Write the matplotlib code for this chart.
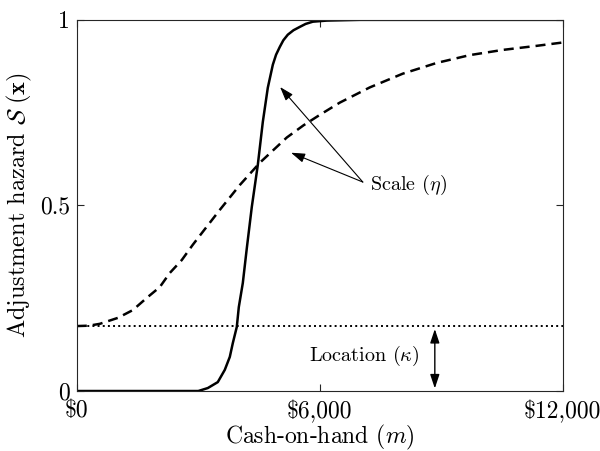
import matplotlib
matplotlib.use("Agg")
import matplotlib.pyplot as plt

# values
sharp_x = [0, 3000, 3235, 3481, 3654, 3778, 3852, 3951, 4000, 4099, 4198, 4321,
           4469, 4593, 4716, 4840, 4920, 5012, 5100, 5210, 5350, 5506, 5650, 5827,
           6173, 7000, 12000]
sharp_y = [0, 0, 0.008, 0.024, 0.057, 0.092, 0.129, 0.173, 0.226, 0.291, 0.385, 0.496,
           0.609, 0.725, 0.817, 0.879, 0.906, 0.927, 0.945, 0.960, 0.972, 0.981, 0.989, 0.995,
           0.998, 1.0, 1.0]

smooth_x = [0, 300, 568, 1012, 1383, 1728, 2049, 2296, 2593, 2864, 3111, 3531,
            4025, 4519, 5185, 5600, 6000, 6494, 7235, 8049, 8889, 9704, 10519, 11358, 12000]
smooth_y = [0.175, 0.176, 0.181, 0.197, 0.218, 0.251, 0.280, 0.318, 0.353, 0.394, 0.429, 0.488,
            0.555, 0.615, 0.683, 0.716, 0.744, 0.777, 0.818, 0.855, 0.884, 0.905, 0.919, 0.930, 0.939]

kappa = 0.175
x_ticks = [0, 6000, 12000]
x_labels = [r'\$0', r'\$6,000', r'\$12,000']
y_ticks = [0, 0.5, 1]
y_labels = ['0', '0.5', '1']

plt.rcParams['font.family'] = 'serif'
plt.rcParams['font.serif'] = ['cmr10']
plt.rcParams['mathtext.fontset'] = 'cm'
plt.rcParams['axes.unicode_minus'] = False

fig = plt.figure(figsize=(6, 4.51), dpi=100)
ax = fig.add_axes([0.128, 0.133, 0.81, 0.823])

ax.plot(sharp_x, sharp_y, color='black', lw=1.8, solid_capstyle='butt')
ax.plot(smooth_x, smooth_y, color='black', lw=1.8, dashes=(4, 2.4))
ax.plot([0, 12000], [kappa, kappa], color='black', lw=1.4, ls=':')

ax.set_xlim(0, 12000)
ax.set_ylim(0, 1)
ax.set_xticks(x_ticks)
ax.set_xticklabels(x_labels)
ax.set_yticks(y_ticks)
ax.set_yticklabels(y_labels)
ax.tick_params(direction='in', length=5, width=0.8, labelsize=17, color='#262626',
               top=True, right=True, pad=5)
ax.tick_params(axis='x', pad=6.5)
for s in ax.spines.values():
    s.set_color('#262626')
    s.set_linewidth(0.8)

ax.set_xlabel(r'Cash-on-hand $(m)$', fontsize=17, labelpad=-0.5)
ax.set_ylabel(r'Adjustment hazard $\mathcal{S}\;(\mathbf{x})$', fontsize=17.5, labelpad=4)

# scale arrows
arrow = dict(arrowstyle='-|>,head_length=0.6,head_width=0.2', color='black', lw=0.8,
             mutation_scale=14, shrinkA=0, shrinkB=0)
ax.annotate('', xy=(5019, 0.819), xytext=(7062, 0.563), arrowprops=arrow)
ax.annotate('', xy=(5290, 0.642), xytext=(7062, 0.563), arrowprops=arrow)
ax.text(7235, 0.555, r'Scale $(\eta)$', fontsize=14.5, va='center', ha='left')

# location arrow
ax.annotate('', xy=(8840, 0.007), xytext=(8840, kappa - 0.008),
            arrowprops=dict(arrowstyle='<|-|>,head_length=0.6,head_width=0.2', color='black',
                            lw=1.0, mutation_scale=14, shrinkA=0, shrinkB=0))
ax.text(8469, 0.094, r'Location $(\kappa)$', fontsize=14.5, va='center', ha='right')

fig.savefig('out.png', dpi=100)
